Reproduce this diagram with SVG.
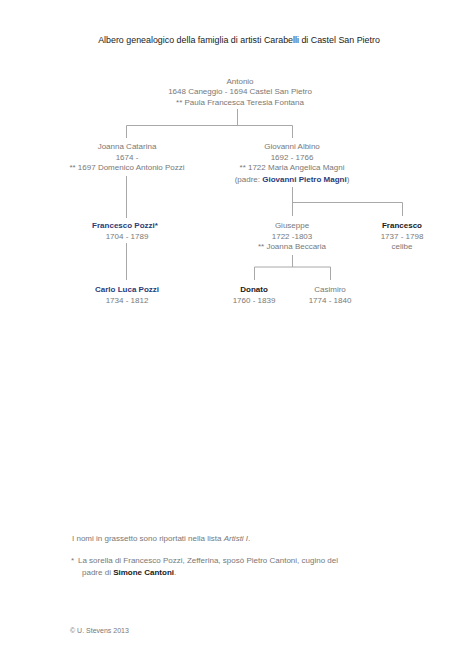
<svg xmlns="http://www.w3.org/2000/svg" width="474" height="669" viewBox="0 0 474 669">
<style>
text{font-family:"Liberation Sans",Arial,sans-serif;font-size:8px;fill:#787878;text-anchor:middle}
.t{fill:#1a1a1a;font-size:8.9px}
.b{font-weight:bold;fill:#2c3b78}
.k{font-weight:bold;fill:#1a1a1a}
.l{text-anchor:start}
.c path{stroke:#a8a8a8;stroke-width:1;fill:none}
</style>
<rect width="474" height="669" fill="#fff"/>
<text class="t" x="239" y="43">Albero genealogico della famiglia di artisti Carabelli di Castel San Pietro</text>
<g class="c" id="connectors">
<path d="M237.5 109V125.5M126.5 138V125.5H292.5V138"/>
<path d="M126.5 176V218"/>
<path d="M292.5 187V216M292.5 202.5H402.5V216"/>
<path d="M126.5 243V280"/>
<path d="M292.5 255V267M254.5 280V267H330.5V280"/>
</g>
<g id="antonio">
<text x="240" y="83.5">Antonio</text>
<text x="240" y="94">1648 Caneggio - 1694 Castel San Pietro</text>
<text x="240" y="105">** Paula Francesca Teresia Fontana</text>
</g>
<g id="joanna">
<text x="127" y="149">Joanna Catarina</text>
<text x="127" y="159.5">1674 -</text>
<text x="127" y="170">** 1697 Domenico Antonio Pozzi</text>
</g>
<g id="giovanni">
<text x="292" y="149">Giovanni Albino</text>
<text x="292" y="159.5">1692 - 1766</text>
<text x="292" y="170">** 1722 Maria Angelica Magni</text>
<text x="292" y="181.5">(padre: <tspan class="b">Giovanni Pietro Magni</tspan>)</text>
</g>
<g id="francesco-pozzi">
<text class="b" x="125" y="228">Francesco Pozzi*</text>
<text x="127" y="238.5">1704 - 1789</text>
</g>
<g id="carlo">
<text class="b" x="127" y="292">Carlo Luca Pozzi</text>
<text x="127" y="302.5">1734 - 1812</text>
</g>
<g id="giuseppe">
<text x="292" y="228">Giuseppe</text>
<text x="292" y="238.5">1722 -1803</text>
<text x="292" y="249">** Joanna Beccaria</text>
</g>
<g id="francesco">
<text class="k" x="402" y="228">Francesco</text>
<text x="402" y="238.5">1737 - 1798</text>
<text x="402" y="249">celibe</text>
</g>
<g id="donato">
<text class="k" x="254" y="292">Donato</text>
<text x="254" y="302.5">1760 - 1839</text>
</g>
<g id="casimiro">
<text x="330" y="292">Casimiro</text>
<text x="330" y="302.5">1774 - 1840</text>
</g>
<g id="notes">
<text class="l" x="72" y="541">I nomi in grassetto sono riportati nella lista <tspan font-style="italic">Artisti I</tspan>.</text>
<text class="l" x="71" y="563">*</text>
<text class="l" x="78" y="563">La sorella di Francesco Pozzi, Zefferina, sposò Pietro Cantoni, cugino del</text>
<text class="l" x="82" y="574.5">padre di <tspan class="k">Simone Cantoni</tspan>.</text>
<text class="l" x="70" y="632.5" style="font-size:7px">© U. Stevens 2013</text>
</g>
</svg>
